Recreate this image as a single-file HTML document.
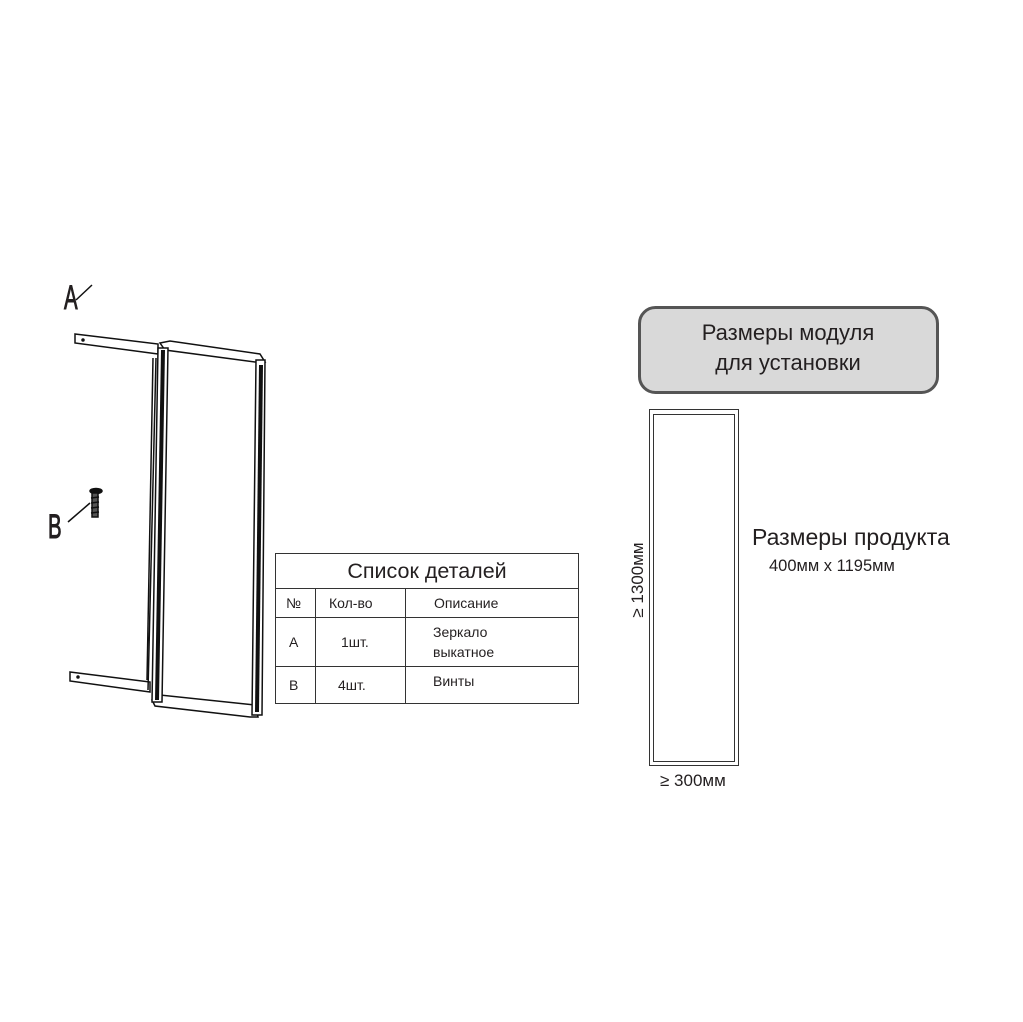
<!DOCTYPE html>
<html><head><meta charset="utf-8"><style>
body{margin:0;background:#fff;width:1023px;height:1022px;position:relative;overflow:hidden;font-family:"Liberation Sans","DejaVu Sans",sans-serif;color:#231f20}
.t{position:absolute;white-space:nowrap}
table{position:absolute;left:275px;top:553px;border-collapse:collapse;font-size:14px}
td{border:1px solid #333;padding:0}
</style></head><body>
<svg width="1023" height="1022" style="position:absolute;left:0;top:0">
<g stroke="#111" fill="none" stroke-width="1.5">
<line x1="76" y1="300" x2="92" y2="285"/>
<line x1="68" y1="522" x2="90" y2="503"/>
<polygon points="75,334 158,344 158,354 75,343" fill="#fff"/>
<circle cx="83" cy="340" r="1" fill="#111"/>
<polygon points="70,672 150,682 150,692 70,681" fill="#fff"/>
<circle cx="78" cy="677" r="1" fill="#111"/>
<line x1="156" y1="358" x2="148" y2="690"/>
<line x1="153" y1="358" x2="147" y2="680"/>
<polygon points="160,343 170,341 260,354 265,362 255,362 165,350" fill="#fff"/>
<polygon points="152,700 160,695 255,705 258,717 250,717 155,706" fill="#fff"/>
<polygon points="158,348 168,348 162,702 152,702" fill="#fff"/>
<line x1="163" y1="350" x2="157" y2="700" stroke-width="4"/>
<polygon points="256,360 265,360 262,715 252,715" fill="#fff"/>
<line x1="261" y1="365" x2="257" y2="712" stroke-width="4"/>
<ellipse cx="96" cy="491" rx="6" ry="2.5" fill="#111"/>
<rect x="92" y="493" width="6" height="24" fill="#555"/>
<line x1="91" y1="498" x2="99" y2="497"/><line x1="91" y1="503" x2="99" y2="502"/><line x1="91" y1="508" x2="99" y2="507"/><line x1="91" y1="513" x2="99" y2="512"/>
</g>
<rect x="639.5" y="307.5" width="298" height="85" rx="16" fill="#d9d9d9" stroke="#555" stroke-width="3"/>
<rect x="649.5" y="409.5" width="89" height="356" fill="none" stroke="#333" stroke-width="1"/>
<rect x="653.5" y="414.5" width="81" height="347" fill="none" stroke="#333" stroke-width="1"/>
<text x="643" y="580" font-size="17" fill="#231f20" text-anchor="middle" transform="rotate(-90 643 580)" font-family="Liberation Sans, sans-serif">≥ 1300мм</text>
</svg>
<div class="t" style="left:64px;top:279px;font-size:34px;transform:scaleX(.6);transform-origin:left;-webkit-text-stroke:1px #231f20">A</div>
<div class="t" style="left:48px;top:508px;font-size:34px;transform:scaleX(.6);transform-origin:left;-webkit-text-stroke:1px #231f20">B</div>
<table>
<tr style="height:35px"><td colspan="3" style="width:302px;text-align:center;font-size:21.5px">Список деталей</td></tr>
<tr style="height:29px"><td style="padding-left:10px;width:29px">№</td><td style="padding-left:13px;width:76px">Кол-во</td><td style="padding-left:28px">Описание</td></tr>
<tr style="height:49px"><td style="padding-left:13px">A</td><td style="padding-left:25px">1шт.</td><td style="padding-left:27px;line-height:20px">Зеркало<br>выкатное</td></tr>
<tr style="height:37px"><td style="padding-left:13px">B</td><td style="padding-left:22px">4шт.</td><td style="padding-left:27px;vertical-align:top;padding-top:6px">Винты</td></tr>
</table>
<div class="t" style="left:639px;top:318px;width:298px;text-align:center;font-size:22px;line-height:30px">Размеры модуля<br>для установки</div>
<div class="t" style="left:752px;top:524px;font-size:23px">Размеры продукта</div>
<div class="t" style="left:769px;top:557px;font-size:16.5px">400мм x 1195мм</div>
<div class="t" style="left:660px;top:771px;font-size:17px">≥ 300мм</div>
</body></html>
